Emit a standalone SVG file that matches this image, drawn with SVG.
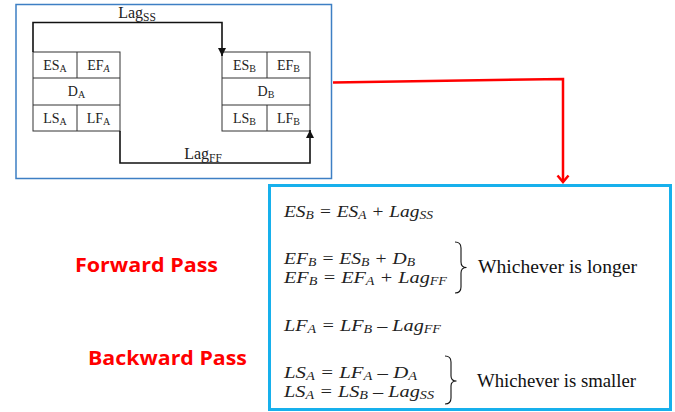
<svg xmlns="http://www.w3.org/2000/svg" width="675" height="412" viewBox="0 0 675 412">
  <style>
    .cell { fill: #ffffff; stroke: #333333; stroke-width: 1; }
    .lbl { font-family: "Liberation Serif", "Times New Roman", serif; font-size: 14px; fill: #222222; text-anchor: middle; }
    .sub { font-size: 10px; }
    .lag { font-size: 16px; }
    .lagsub { font-size: 11.5px; }
    .eq { font-family: "Liberation Serif", "Times New Roman", serif; font-style: italic; font-size: 16.5px; fill: #222222; }
    .es { font-size: 11.5px; }
    .note { font-family: "Liberation Serif", "Times New Roman", serif; font-size: 19px; fill: #111111; }
    .pass { font-family: "Open Sans", "Liberation Sans", sans-serif; font-weight: bold; font-size: 19px; fill: #ff0000; }
    .link { fill: none; stroke: #111111; stroke-width: 1.6; }
    .brace { fill: none; stroke: #111111; stroke-width: 1.1; }
  </style>
  <defs>
    <marker id="tri" viewBox="0 0 10 10" refX="10" refY="5" markerWidth="8" markerHeight="8" markerUnits="userSpaceOnUse" orient="auto">
      <path d="M0,0 L10,5 L0,10 Z" fill="#111111"/>
    </marker>
  </defs>

  <rect width="675" height="412" fill="#ffffff"/>

  <!-- frame around the precedence sketch -->
  <rect id="sketch-frame" x="16" y="4.5" width="315.5" height="174" fill="none" stroke="#3d7fc4" stroke-width="1.5"/>

  <!-- activity A -->
  <g id="node-a">
    <rect class="cell" x="33" y="52" width="87" height="79"/>
    <line class="cell" x1="33" y1="78" x2="120" y2="78"/>
    <line class="cell" x1="33" y1="105" x2="120" y2="105"/>
    <line class="cell" x1="77" y1="52" x2="77" y2="78"/>
    <line class="cell" x1="77" y1="105" x2="77" y2="131"/>
    <text class="lbl" x="55" y="70">ES<tspan class="sub" dy="2">A</tspan></text>
    <text class="lbl" x="98.5" y="70">EF<tspan class="sub" dy="2" font-style="italic">A</tspan></text>
    <text class="lbl" x="76.5" y="96">D<tspan class="sub" dy="2">A</tspan></text>
    <text class="lbl" x="55" y="123">LS<tspan class="sub" dy="2">A</tspan></text>
    <text class="lbl" x="98.5" y="123">LF<tspan class="sub" dy="2">A</tspan></text>
  </g>

  <!-- activity B -->
  <g id="node-b">
    <rect class="cell" x="222" y="52" width="88" height="79"/>
    <line class="cell" x1="222" y1="78" x2="310" y2="78"/>
    <line class="cell" x1="222" y1="105" x2="310" y2="105"/>
    <line class="cell" x1="267" y1="52" x2="267" y2="78"/>
    <line class="cell" x1="267" y1="105" x2="267" y2="131"/>
    <text class="lbl" x="244.5" y="70">ES<tspan class="sub" dy="2">B</tspan></text>
    <text class="lbl" x="288.5" y="70">EF<tspan class="sub" dy="2">B</tspan></text>
    <text class="lbl" x="266" y="96">D<tspan class="sub" dy="2">B</tspan></text>
    <text class="lbl" x="244.5" y="123">LS<tspan class="sub" dy="2">B</tspan></text>
    <text class="lbl" x="288.5" y="123">LF<tspan class="sub" dy="2">B</tspan></text>
  </g>

  <!-- lag links between A and B -->
  <g id="connectors">
    <path class="link" d="M33,52 V22.5 H222 V56" marker-end="url(#tri)"/>
    <path class="link" d="M120,131 V163 H310 V130" marker-end="url(#tri)"/>
    <text class="lbl lag" x="137" y="18">Lag<tspan class="lagsub" dy="3">SS</tspan></text>
    <text class="lbl lag" x="203" y="159">Lag<tspan class="lagsub" dy="3">FF</tspan></text>

    <!-- red pointer to the formulas -->
    <path d="M333,82.5 L563,79 V182" fill="none" stroke="#ff0000" stroke-width="2.5"/>
    <path d="M557.5,175.5 L563,182 L568.5,175.5" fill="none" stroke="#ff0000" stroke-width="2.5"/>
  </g>

  <!-- formula panel -->
  <g id="formulas">
    <rect x="269.5" y="185.5" width="401" height="224" fill="#ffffff" stroke="#17b0ec" stroke-width="3"/>

    <text class="eq" x="284" y="217" textLength="149" lengthAdjust="spacingAndGlyphs">ES<tspan class="es" dy="2">B</tspan><tspan dy="-2"> = ES</tspan><tspan class="es" dy="2">A</tspan><tspan dy="-2"> + Lag</tspan><tspan class="es" dy="2">SS</tspan></text>

    <text class="eq" x="284" y="264" textLength="131" lengthAdjust="spacingAndGlyphs">EF<tspan class="es" dy="2">B</tspan><tspan dy="-2"> = ES</tspan><tspan class="es" dy="2">B</tspan><tspan dy="-2"> + D</tspan><tspan class="es" dy="2">B</tspan></text>
    <text class="eq" x="284" y="283" textLength="163" lengthAdjust="spacingAndGlyphs">EF<tspan class="es" dy="2">B</tspan><tspan dy="-2"> = EF</tspan><tspan class="es" dy="2">A</tspan><tspan dy="-2"> + Lag</tspan><tspan class="es" dy="2">FF</tspan></text>
    <path class="brace" d="M455,242 Q461,242 461,248 V262 Q461,267.5 466.5,267.5 Q461,267.5 461,273 V287 Q461,293 455,293"/>
    <text class="note" x="478" y="273" textLength="159" lengthAdjust="spacingAndGlyphs">Whichever is longer</text>

    <text class="eq" x="284" y="331" textLength="157" lengthAdjust="spacingAndGlyphs">LF<tspan class="es" dy="2">A</tspan><tspan dy="-2"> = LF</tspan><tspan class="es" dy="2">B</tspan><tspan dy="-2"> – Lag</tspan><tspan class="es" dy="2">FF</tspan></text>

    <text class="eq" x="284" y="378" textLength="133" lengthAdjust="spacingAndGlyphs">LS<tspan class="es" dy="2">A</tspan><tspan dy="-2"> = LF</tspan><tspan class="es" dy="2">A</tspan><tspan dy="-2"> – D</tspan><tspan class="es" dy="2">A</tspan></text>
    <text class="eq" x="284" y="397" textLength="150" lengthAdjust="spacingAndGlyphs">LS<tspan class="es" dy="2">A</tspan><tspan dy="-2"> = LS</tspan><tspan class="es" dy="2">B</tspan><tspan dy="-2"> – Lag</tspan><tspan class="es" dy="2">SS</tspan></text>
    <path class="brace" d="M445,356 Q451,356 451,362 V376 Q451,381 456.5,381 Q451,381 451,386 V398 Q451,404 445,404"/>
    <text class="note" x="477" y="387" textLength="159" lengthAdjust="spacingAndGlyphs">Whichever is smaller</text>
  </g>

  <!-- pass captions -->
  <text class="pass" x="75" y="272" textLength="143" lengthAdjust="spacingAndGlyphs">Forward Pass</text>
  <text class="pass" x="88" y="365" textLength="159" lengthAdjust="spacingAndGlyphs">Backward Pass</text>
</svg>
